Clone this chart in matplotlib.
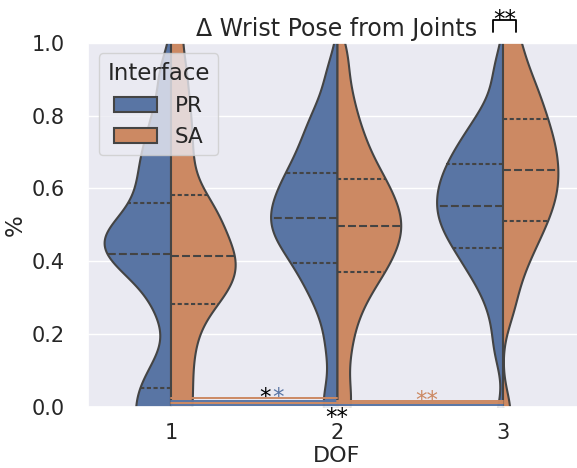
import numpy as np
import matplotlib
matplotlib.use("Agg")
import matplotlib.pyplot as plt
from matplotlib.patches import Patch
import seaborn as sns

# per-trial values (fraction, axis shows %)
dof_levels = ["1", "2", "3"]
interfaces = ["PR", "SA"]

pr_1 = [-0.22, -0.16, -0.12, -0.08, -0.045, -0.005, 0.03, 0.06, 0.12, 0.26, 0.33, 0.37, 0.39, 0.41,
        0.43, 0.445, 0.46, 0.475, 0.49, 0.51, 0.55, 0.585, 0.625, 0.665, 0.705, 0.755, 0.82, 0.92]
sa_1 = [-0.08, -0.02, 0.04, 0.10, 0.16, 0.21, 0.255, 0.29, 0.31, 0.33, 0.35, 0.37, 0.39, 0.41,
        0.42, 0.445, 0.47, 0.495, 0.52, 0.545, 0.57, 0.62, 0.68, 0.74, 0.80, 0.87, 0.95, 1.06]
pr_2 = [-0.03, 0.036, 0.157, 0.248, 0.305, 0.339, 0.373, 0.401, 0.423, 0.445, 0.466, 0.48, 0.497, 0.51,
        0.528, 0.545, 0.56, 0.58, 0.60, 0.62, 0.637, 0.66, 0.69, 0.72, 0.75, 0.79, 0.83, 0.92]
sa_2 = [-0.03, 0.045, 0.147, 0.224, 0.279, 0.317, 0.35, 0.375, 0.395, 0.415, 0.435, 0.455, 0.475, 0.49,
        0.505, 0.52, 0.54, 0.56, 0.58, 0.60, 0.62, 0.645, 0.675, 0.71, 0.75, 0.80, 0.87, 0.97]
pr_3 = [-0.05, 0.16, 0.26, 0.325, 0.364, 0.391, 0.418, 0.442, 0.462, 0.481, 0.497, 0.514, 0.53, 0.545,
        0.56, 0.578, 0.594, 0.61, 0.627, 0.644, 0.66, 0.682, 0.704, 0.726, 0.748, 0.786, 0.826, 0.928]
sa_3 = [-0.02, 0.265, 0.344, 0.395, 0.435, 0.465, 0.492, 0.517, 0.54, 0.561, 0.581, 0.60, 0.62, 0.64,
        0.658, 0.679, 0.699, 0.718, 0.74, 0.762, 0.785, 0.81, 0.838, 0.867, 0.896, 0.94, 0.99, 1.06]

groups = {"PR": [pr_1, pr_2, pr_3], "SA": [sa_1, sa_2, sa_3]}

# significance lines (from idx, to idx, height, colour key) and star labels
bracket_lines = [(0, 1, 0.023, "SA"), (0, 1, 0.016, "PR"), (1, 2, 0.016, "SA"),
                 (0, 2, 0.011, "SA"), (0, 2, 0.005, "PR")]
star_texts = [(0.565, 0.007, "*", "k"), (0.645, 0.007, "*", "PR"),
              (1.54, -0.002, "**", "SA"), (1.0, -0.048, "**", "k"),
              (2.01, 1.045, "**", "k")]

BW = 0.06         # kde bandwidth
HALF = 0.4        # max half-width of a violin
EDGE = "#444444"

sns.set_theme(style="darkgrid")
pal = sns.color_palette("deep")
cols = {"PR": sns.desaturate(pal[0], 0.75), "SA": sns.desaturate(pal[1], 0.75), "k": "black"}


def kde(vals, grid):
    v = np.asarray(vals)
    z = (grid[:, None] - v[None, :]) / BW
    return np.exp(-0.5 * z ** 2).sum(1) / (len(v) * BW * np.sqrt(2 * np.pi))


fig = plt.figure(figsize=(5.77, 4.68), dpi=100)
ax = fig.add_axes([88 / 577, 61.3 / 468, 498 / 577, 364 / 468])

for pos in range(len(dof_levels)):
    curves = {}
    for name in interfaces:
        vals = groups[name][pos]
        yy = np.linspace(min(vals) - 2 * BW, max(vals) + 2 * BW, 300)
        curves[name] = (vals, yy, kde(vals, yy))
    scale = HALF / max(c[2].max() for c in curves.values())
    for name, sign in zip(interfaces, (-1, 1)):
        vals, yy, dens = curves[name]
        ax.fill_betweenx(yy, pos, pos + sign * dens * scale, facecolor=cols[name],
                         edgecolor=EDGE, lw=1.5, zorder=2)
        qs = np.percentile(vals, [25, 50, 75])
        wq = kde(vals, qs) * scale
        for q, w, ls in zip(qs, wq, [(0, (2.0, 1.2)), (0, (3.8, 1.5)), (0, (2.0, 1.2))]):
            ax.plot([pos, pos + sign * w], [q, q], color=EDGE, lw=1.5, ls=ls, zorder=3)

for x0, x1, y, c in bracket_lines:
    ax.plot([x0, x1], [y, y], color=cols[c], lw=1.4, clip_on=False, zorder=5)
# bracket over DOF 3 (PR vs SA)
ax.plot([1.94, 1.94, 2.08, 2.08], [1.03, 1.062, 1.062, 1.03], color="black",
        lw=1.3, clip_on=False)
for x, y, s, c in star_texts:
    ax.text(x, y, s, color=cols[c], fontsize=16.5, ha="center", va="baseline",
            clip_on=False)

ax.set_ylim(0, 1.0)
ax.set_xlim(-0.5, 2.5)
ax.set_xticks(range(len(dof_levels)), dof_levels)
ax.set_yticks(np.arange(0, 1.01, 0.2))
ax.xaxis.grid(False)
ax.tick_params(axis="y", labelsize=15, pad=11)
ax.tick_params(axis="x", labelsize=15, pad=6)
ax.set_xlabel("DOF", fontsize=16, labelpad=2)
ax.set_ylabel("%", fontsize=16.5, labelpad=3)
ax.set_title("Δ Wrist Pose from Joints", fontsize=17, pad=5)

handles = [Patch(facecolor=cols[n], edgecolor=EDGE, lw=1.5, label=n) for n in interfaces]
ax.legend(handles=handles, title="Interface", loc="upper left", fontsize=15.5,
          title_fontsize=16.5)

fig.savefig("out.png", dpi=100)
